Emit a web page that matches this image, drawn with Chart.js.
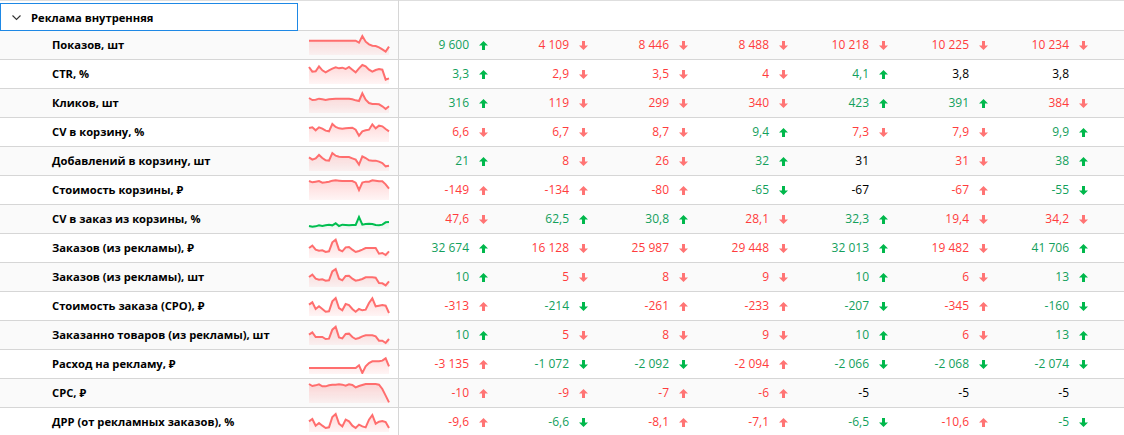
<!DOCTYPE html>
<html>
<head>
<meta charset="utf-8">
<script src="https://cdn.jsdelivr.net/npm/chart.js@4.4.1/dist/chart.umd.min.js"></script>
<style>
html, body { margin: 0; padding: 0; background: #fff; }
body { width: 1124px; height: 435px; overflow: hidden; position: relative; font-family: "Open Sans", "Noto Sans", sans-serif; color: #000; }
.hdr { position: absolute; left: 0; top: 0; width: 1124px; height: 31px; box-sizing: border-box; border-top: 1px solid #dedede; border-bottom: 1px solid #d6d6d6; }
.hdr-box { position: absolute; left: 0; top: 2px; width: 298px; height: 28px; box-sizing: border-box; border: 1px solid #1e88e5; }
.hdr-title { position: absolute; left: 30px; top: 0; line-height: 27px; font-size: 11.2px; font-weight: 700; }
.chev { position: absolute; left: 11px; top: 11px; }
.row { position: absolute; left: 0; width: 1124px; height: 29px; box-sizing: border-box; border-bottom: 1px solid #d6d6d6; }
.row.alt { background: #fafafa; }
.lbl { position: absolute; left: 52px; top: 0; line-height: 28px; font-size: 11.2px; font-weight: 700; white-space: nowrap; }
.spark { position: absolute; left: 308px; top: 2px; }
.num { position: absolute; top: 0; width: 71px; text-align: right; line-height: 28px; font-size: 12px; white-space: nowrap; }
.arr { position: absolute; top: 10px; }
.vsep { position: absolute; left: 398px; top: 0; width: 1px; height: 435px; background: #d6d6d6; }
</style>
</head>
<body>
<div id="table"></div>
<script>
// Раздел и метрики
const sectionTitle = 'Реклама внутренняя';

const metricLabels = [
    'Показов, шт',
    'CTR, %',
    'Кликов, шт',
    'CV в корзину, %',
    'Добавлений в корзину, шт',
    'Стоимость корзины, ₽',
    'CV в заказ из корзины, %',
    'Заказов (из рекламы), ₽',
    'Заказов (из рекламы), шт',
    'Стоимость заказа (CPO), ₽',
    'Заказанно товаров (из рекламы), шт',
    'Расход на рекламу, ₽',
    'CPC, ₽',
    'ДРР (от рекламных заказов), %'
];

// Значения по периодам (7 колонок)
const periodValues = [
    [9600, 4109, 8446, 8488, 10218, 10225, 10234],
    [3.3, 2.9, 3.5, 4, 4.1, 3.8, 3.8],
    [316, 119, 299, 340, 423, 391, 384],
    [6.6, 6.7, 8.7, 9.4, 7.3, 7.9, 9.9],
    [21, 8, 26, 32, 31, 31, 38],
    [-149, -134, -80, -65, -67, -67, -55],
    [47.6, 62.5, 30.8, 28.1, 32.3, 19.4, 34.2],
    [32674, 16128, 25987, 29448, 32013, 19482, 41706],
    [10, 5, 8, 9, 10, 6, 13],
    [-313, -214, -261, -233, -207, -345, -160],
    [10, 5, 8, 9, 10, 6, 13],
    [-3135, -1072, -2092, -2094, -2066, -2068, -2074],
    [-10, -9, -7, -6, -5, -5, -5],
    [-9.6, -6.6, -8.1, -7.1, -6.5, -10.6, -5]
];

// Тренд: g/r = хорошо/плохо, u/d = стрелка вверх/вниз, n = без изменений
const periodTrends = [
    ['gu', 'rd', 'rd', 'rd', 'rd', 'rd', 'rd'],
    ['gu', 'rd', 'rd', 'rd', 'gu', 'n', 'n'],
    ['gu', 'rd', 'rd', 'rd', 'gu', 'gu', 'rd'],
    ['rd', 'rd', 'rd', 'gu', 'rd', 'rd', 'gu'],
    ['gu', 'rd', 'rd', 'gu', 'n', 'rd', 'gu'],
    ['ru', 'ru', 'ru', 'gd', 'n', 'ru', 'gd'],
    ['rd', 'gu', 'gu', 'rd', 'gu', 'rd', 'rd'],
    ['gu', 'rd', 'rd', 'rd', 'gu', 'rd', 'gu'],
    ['gu', 'rd', 'rd', 'rd', 'gu', 'rd', 'gu'],
    ['ru', 'gd', 'ru', 'ru', 'gd', 'ru', 'gd'],
    ['gu', 'rd', 'rd', 'rd', 'gu', 'rd', 'gu'],
    ['ru', 'gd', 'gd', 'ru', 'gd', 'gd', 'gd'],
    ['ru', 'ru', 'ru', 'ru', 'n', 'n', 'n'],
    ['ru', 'gd', 'ru', 'ru', 'gd', 'ru', 'gd']
];

// Спарклайны (25 точек, относительная высота)
const sparkShows   = [43, 43, 43, 43, 43, 43, 43, 43, 43, 43, 43, 43, 43, 43, 43, 37, 57, 40, 32, 28, 27, 23, 17, 10, 25];
const sparkCtr     = [51, 37, 38, 53, 41, 35, 41, 46, 50, 47, 49, 45, 51, 43, 35, 47, 57, 53, 43, 37, 42, 45, 43, 13, 17];
const sparkClicks  = [45, 39, 40, 43, 41, 39, 41, 42, 43, 43, 43, 43, 43, 41, 38, 36, 59, 40, 30, 27, 27, 26, 20, 12, 20];
const sparkCvCart  = [42, 44, 35, 44, 40, 34, 32, 54, 45, 41, 40, 41, 42, 43, 37, 19, 32, 35, 37, 53, 41, 49, 47, 39, 32];
const sparkAdds    = [41, 34, 38, 48, 39, 32, 31, 54, 46, 43, 42, 42, 42, 38, 34, 19, 44, 39, 32, 31, 31, 28, 24, 14, 16];
const sparkCartCost = [57, 53, 55, 57, 52, 53, 55, 58, 59, 58, 57, 57, 57, 57, 52, 30, 52, 55, 55, 59, 58, 56, 56, 47, 34];
const sparkCvOrder = [9, 7, 8, 11, 9, 11, 13, 11, 17, 9, 13, 12, 11, 12, 12, 36, 13, 15, 16, 15, 12, 11, 13, 20, 21];
const sparkOrdersRub = [30, 37, 25, 22, 23, 18, 20, 47, 55, 25, 20, 32, 33, 25, 18, 21, 25, 30, 30, 30, 30, 13, 15, 9, 20];
const sparkOrdersQty = [30, 37, 25, 22, 23, 19, 20, 47, 54, 25, 20, 33, 34, 25, 19, 21, 24, 29, 29, 29, 28, 12, 11, 5, 17];
const sparkCpo     = [34, 41, 21, 29, 21, 13, 14, 44, 54, 24, 17, 36, 33, 21, 13, 21, 17, 19, 39, 53, 29, 31, 33, 31, 9];
const sparkItems   = [31, 38, 24, 24, 24, 18, 19, 46, 55, 23, 20, 33, 34, 24, 18, 21, 26, 29, 29, 29, 26, 13, 13, 6, 18];
const sparkSpend   = [18, 18, 18, 18, 18, 18, 18, 18, 18, 18, 18, 18, 18, 18, 18, 26, 3, 23, 33, 38, 38, 38, 40, 47, 23];
const sparkCpc     = [57, 51, 53, 56, 50, 50, 53, 55, 55, 56, 55, 52, 56, 54, 47, 51, 54, 57, 57, 57, 57, 55, 42, 22, 2];
const sparkDrr     = [32, 39, 19, 27, 19, 12, 14, 45, 54, 25, 17, 37, 32, 19, 12, 22, 17, 14, 37, 51, 25, 31, 33, 30, 12];

const sparkSeries = [sparkShows, sparkCtr, sparkClicks, sparkCvCart, sparkAdds, sparkCartCost, sparkCvOrder,
    sparkOrdersRub, sparkOrdersQty, sparkCpo, sparkItems, sparkSpend, sparkCpc, sparkDrr];
const sparkGreen = [false, false, false, false, false, false, true, false, false, false, false, false, false, false];

const RED_LINE = 'rgb(255, 110, 110)';
const GREEN_LINE = 'rgb(0, 190, 80)';
const TEXT_GREEN = '#13a05c';
const TEXT_RED = '#ff3c3c';
const ARROW_GREEN = '#00b84c';
const ARROW_RED = '#ff7474';

function fmt(v) {
    return v.toLocaleString('ru-RU', { maximumFractionDigits: 1 }).replace(/\u2212/g, '-');
}

function arrowSvg(dir, color) {
    const pts = dir === 'u'
        ? '4.5,0 9,4.5 6,4.5 6,9 3,9 3,4.5 0,4.5'
        : '4.5,9 9,4.5 6,4.5 6,0 3,0 3,4.5 0,4.5';
    return `<svg class="arr" width="9" height="9" viewBox="0 0 9 9"><polygon points="${pts}" fill="${color}"/></svg>`;
}

const table = document.getElementById('table');

// Заголовок раздела
const hdr = document.createElement('div');
hdr.className = 'hdr';
hdr.innerHTML = `<div class="hdr-box"><svg class="chev" width="9" height="6" viewBox="0 0 9 6"><polyline points="0.5,0.5 4.5,4.5 8.5,0.5" fill="none" stroke="#333" stroke-width="1.1"/></svg><div class="hdr-title">${sectionTitle}</div></div>`;
table.appendChild(hdr);

metricLabels.forEach((label, r) => {
    const row = document.createElement('div');
    row.className = 'row' + (r % 2 === 0 ? ' alt' : '');
    row.style.top = (31 + r * 29) + 'px';

    const lbl = document.createElement('div');
    lbl.className = 'lbl';
    lbl.innerText = label;
    row.appendChild(lbl);

    const canvas = document.createElement('canvas');
    canvas.className = 'spark';
    canvas.width = 82;
    canvas.height = 23;
    canvas.style.width = '82px';
    canvas.style.height = '23px';
    row.appendChild(canvas);

    periodValues[r].forEach((v, c) => {
        const trend = periodTrends[r][c];
        const left = 398 + c * 100;
        const num = document.createElement('div');
        num.className = 'num';
        num.style.left = left + 'px';
        num.style.color = trend[0] === 'g' ? TEXT_GREEN : trend[0] === 'r' ? TEXT_RED : '#000';
        num.innerText = fmt(v);
        row.appendChild(num);
        if (trend !== 'n') {
            const wrap = document.createElement('div');
            wrap.style.position = 'absolute';
            wrap.style.left = (left + 81) + 'px';
            wrap.style.top = '0px';
            wrap.innerHTML = arrowSvg(trend[1], trend[0] === 'g' ? ARROW_GREEN : ARROW_RED);
            row.appendChild(wrap);
        }
    });

    table.appendChild(row);
    drawSpark(canvas, sparkSeries[r], sparkGreen[r]);
});

const vsep = document.createElement('div');
vsep.className = 'vsep';
document.body.appendChild(vsep);

function drawSpark(canvas, data, green) {
    const line = green ? GREEN_LINE : RED_LINE;
    new Chart(canvas, {
        type: 'line',
        data: {
            labels: data.map((_, i) => i + 1),
            datasets: [{
                data: data,
                borderColor: line,
                borderWidth: 2,
                pointRadius: 0,
                tension: 0,
                fill: 'origin',
                backgroundColor: (ctx) => {
                    const area = ctx.chart.chartArea;
                    if (!area) return 'transparent';
                    const g = ctx.chart.ctx.createLinearGradient(0, area.top, 0, area.bottom);
                    if (green) {
                        g.addColorStop(0, 'rgba(0, 190, 80, 0.18)');
                        g.addColorStop(1, 'rgba(0, 190, 80, 0.03)');
                    } else {
                        g.addColorStop(0, 'rgba(255, 110, 110, 0.3)');
                        g.addColorStop(1, 'rgba(255, 110, 110, 0.07)');
                    }
                    return g;
                }
            }]
        },
        options: {
            responsive: false,
            animation: false,
            devicePixelRatio: 1,
            layout: { padding: { left: 1, right: 1, top: 0, bottom: 1 } },
            plugins: { legend: { display: false }, tooltip: { enabled: false } },
            scales: {
                x: { display: false },
                y: { display: false, min: 0, max: 66 }
            }
        }
    });
}
</script>
</body>
</html>
